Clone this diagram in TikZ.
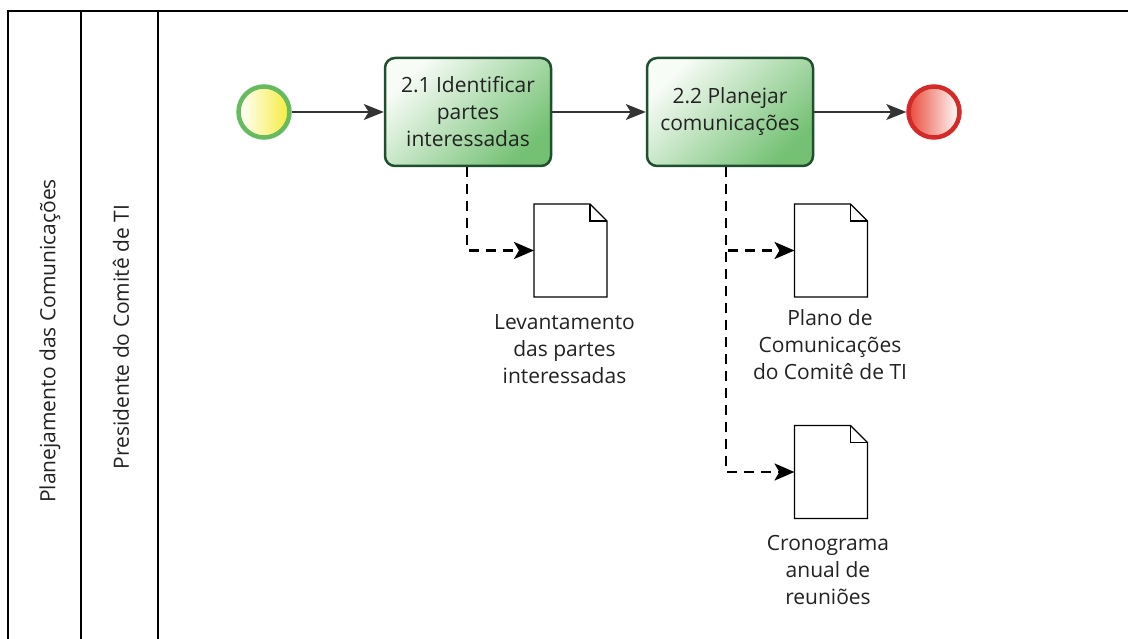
\documentclass[tikz,border=0pt]{standalone}
\usepackage{fontspec}
\setmainfont{Open Sans}
\usetikzlibrary{arrows.meta,calc}
\definecolor{taskborder}{HTML}{1F4F2F}
\definecolor{taskgreen}{HTML}{74C174}
\definecolor{taskwhite}{HTML}{F8FCF7}
\definecolor{startgreen}{HTML}{66BB5F}
\definecolor{startyellow}{HTML}{F6EC3C}
\definecolor{endred}{HTML}{D42A2A}
\definecolor{endfill}{HTML}{EA4A3A}
\definecolor{flowgray}{HTML}{333333}
\definecolor{textgray}{HTML}{222222}
\newcommand{\mydocshape}[1]{%
  \draw[docstroke] (#1.north west) -- ([xshift=-17pt]#1.north east) -- ([yshift=-17pt]#1.north east) -- (#1.south east) -- (#1.south west) -- cycle;
  \draw[docstroke] ([xshift=-17pt]#1.north east) -- ([xshift=-17pt,yshift=-17pt]#1.north east) -- ([yshift=-17pt]#1.north east);}
\begin{document}
\begin{tikzpicture}[x=1pt,y=-1pt,
  every node/.style={font=\fontsize{21}{27}\selectfont, text=textgray},
  frame/.style={line width=2.6pt, black},
  event/.style={circle, minimum size=51pt, inner sep=0pt, line width=4.5pt},
  task/.style={rectangle, rounded corners=10pt, minimum width=166pt, minimum height=108pt,
    draw=taskborder, line width=2.5pt, top color=taskwhite, bottom color=taskgreen,
    shading angle=45, align=center, inner sep=2pt},
  seq/.style={draw=flowgray, line width=1.3pt, -{Stealth[length=20pt,width=16pt,inset=5pt]}},
  dataflow/.style={draw=black, line width=2.6pt, dash pattern=on 10pt off 7pt,
    -{Stealth[length=20pt,width=17pt,inset=5pt]}},
  doc/.style={rectangle, minimum width=73pt, minimum height=93pt, inner sep=0pt, outer sep=0pt, fill=white},
  docstroke/.style={draw=black, line width=1.4pt, line join=miter},
  doclabel/.style={align=center, inner sep=0pt, anchor=north},
  lanelabel/.style={rotate=90, inner sep=0pt}
]
\useasboundingbox (0,0) rectangle (1128,639);
% pool frame
\draw[frame] (8,639) -- (8,11) -- (1128,11);
\draw[frame] (81,11) -- (81,639);
\draw[frame] (158,11) -- (158,639);
\node[lanelabel] (pool) at (50,341) {Planejamento das Comunicações};
\node[lanelabel] (lane) at (121,337) {Presidente do Comitê de TI};
% events and tasks
\node[event, draw=startgreen, left color=white, right color=startyellow] (s) at (264,112) {};
\node[task] (t1) at (468,112) {2.1 Identificar\\partes\\interessadas};
\node[task] (t2) at (730,112) {2.2 Planejar\\comunicações};
\node[event, draw=endred, left color=endfill, right color=white] (e) at (934,112) {};
\draw[seq] (s) -- (t1);
\draw[seq] (t1) -- (t2);
\draw[seq] (t2) -- (e);
% documents
\node[doc] (d1) at (570.5,250.5) {};
\node[doc] (d2) at (831,250.5) {};
\node[doc] (d3) at (831,472) {};
\mydocshape{d1}
\mydocshape{d2}
\mydocshape{d3}
\node[doclabel] (l1) at ([xshift=-6pt,yshift=-17pt]d1.south) {Levantamento\\das partes\\interessadas};
\node[doclabel] (l2) at ([xshift=-1pt,yshift=-12pt]d2.south) {Plano de\\Comunicações\\do Comitê de TI};
\node[doclabel] (l3) at ([xshift=-3pt,yshift=-17pt]d3.south) {Cronograma\\anual de\\reuniões};
% data associations
\draw[dataflow] ([xshift=-1pt]t1.south) |- (d1.west);
\draw[dataflow] ([xshift=-4pt]t2.south) |- (d2.west);
\draw[dataflow] ([xshift=-4pt]t2.south) |- (d3.west);
\end{tikzpicture}
\end{document}
